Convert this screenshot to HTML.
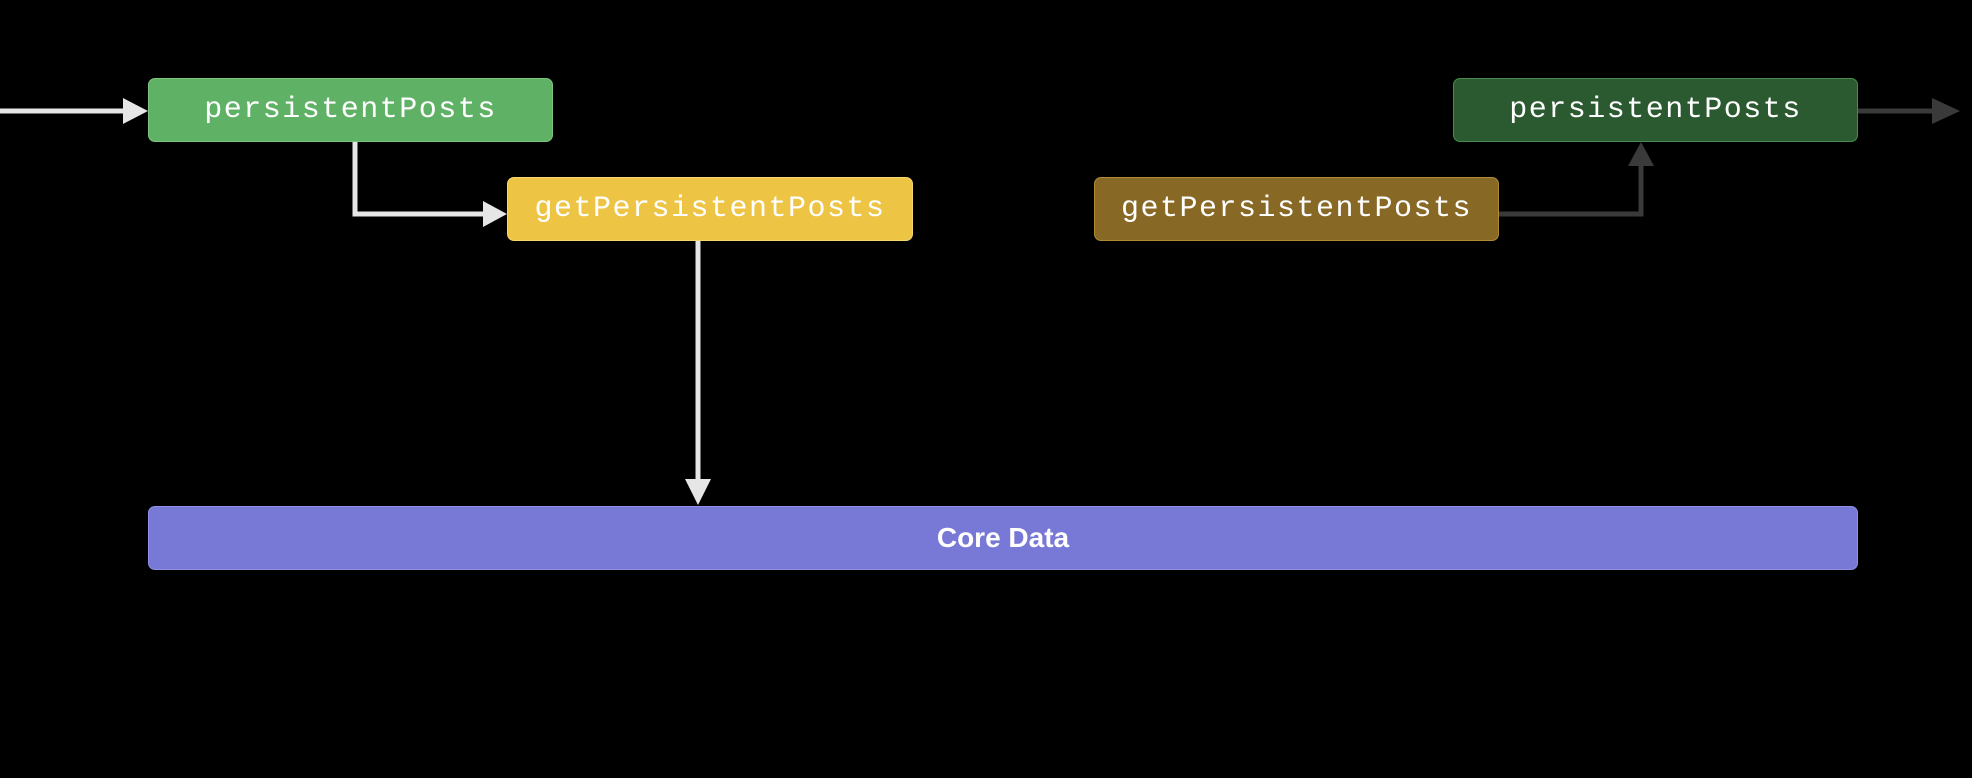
<!DOCTYPE html>
<html><head><style>
body{margin:0;width:1972px;height:778px;background:#000;position:relative;overflow:hidden}
.b{position:absolute;border-radius:7px;display:flex;align-items:center;justify-content:center;font-family:"Liberation Mono",monospace;font-size:30px;letter-spacing:1.5px;color:#fff;box-sizing:border-box}
</style></head><body>
<svg width="1972" height="778" style="position:absolute;left:0;top:0">
<g stroke="#e6e6e6" stroke-width="5" fill="none">
<path d="M0 111H126"/>
<path d="M355 142V214H486"/>
<path d="M698 241V482"/>
</g>
<g fill="#e6e6e6">
<path d="M123 98L148 111L123 124Z"/>
<path d="M483 201L507 214L483 227Z"/>
<path d="M685 479L698 505L711 479Z"/>
</g>
<g stroke="#3a3a3a" stroke-width="5" fill="none">
<path d="M1499 214H1641V164"/>
<path d="M1858 111H1935"/>
</g>
<g fill="#3a3a3a">
<path d="M1628 166L1641 142L1654 166Z"/>
<path d="M1932 98L1960 111L1932 124Z"/>
</g>
</svg>
<div class="b" style="left:148px;top:78px;width:405px;height:64px;background:#5fb265;border:1px solid #7cc57f">persistentPosts</div>
<div class="b" style="left:507px;top:177px;width:406px;height:64px;background:#edc444;border:1px solid #f5d670">getPersistentPosts</div>
<div class="b" style="left:1094px;top:177px;width:405px;height:64px;background:#886825;border:1px solid #b08a35">getPersistentPosts</div>
<div class="b" style="left:1453px;top:78px;width:405px;height:64px;background:#2b5a31;border:1px solid #4a8a50">persistentPosts</div>
<div class="b" style="left:148px;top:506px;width:1710px;height:64px;background:#7878d6;border:1px solid #9090e6;font-family:'Liberation Sans',sans-serif;font-weight:bold;font-size:28px;letter-spacing:0">Core Data</div>
</body></html>
